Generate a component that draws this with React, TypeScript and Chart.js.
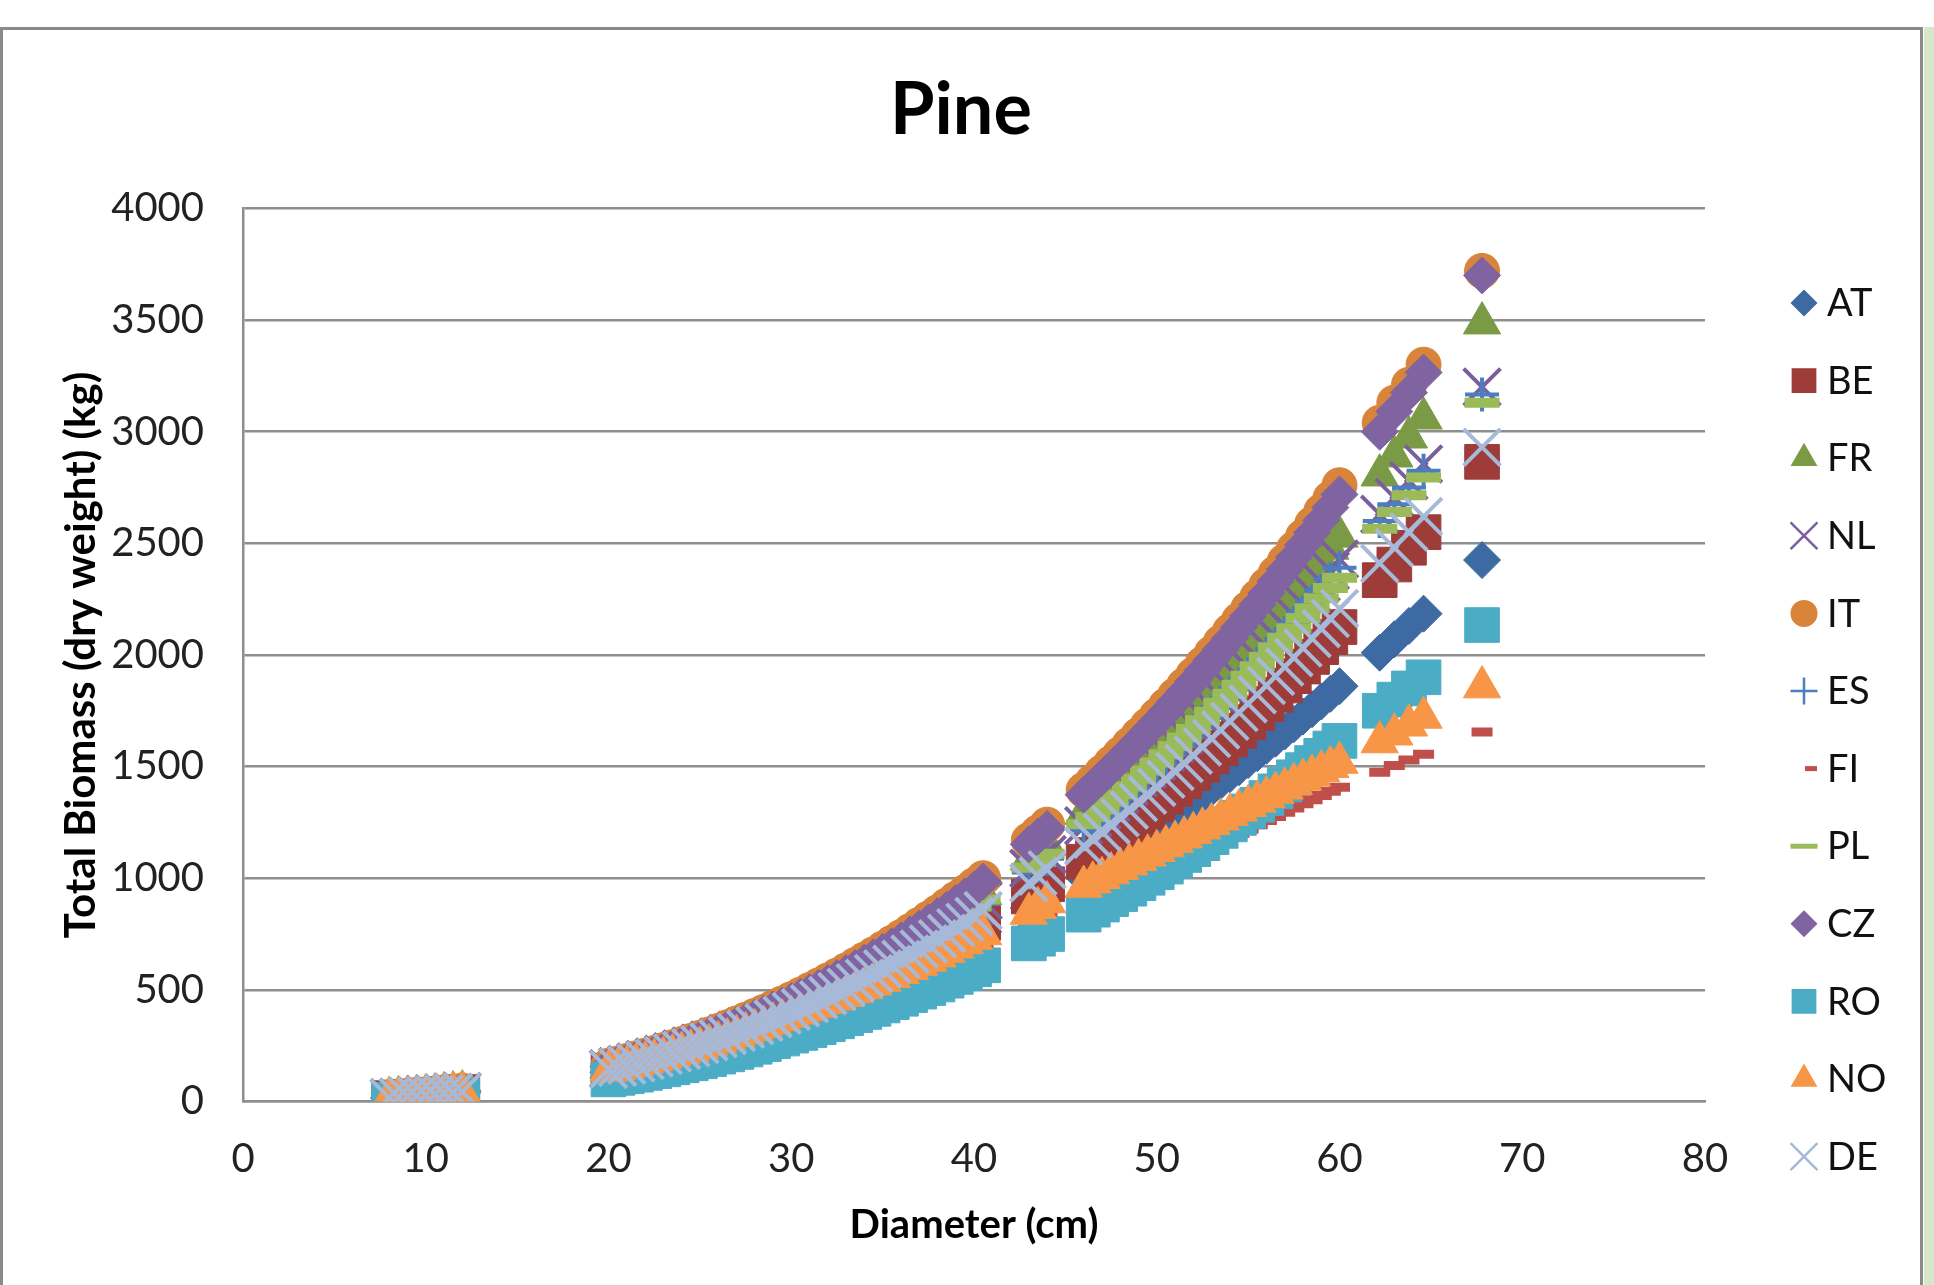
import React, { useEffect, useRef } from 'react';
import { Chart, registerables } from 'chart.js';

Chart.register(...registerables);

// Diameters (cm) shared by all series
const diameters = [
  8, 8.5, 9, 9.5, 10, 10.5, 11, 11.5, 12,
  20, 20.5, 21, 21.5, 22, 22.5, 23, 23.5, 24, 24.5, 25, 25.5, 26, 26.5, 27, 27.5, 28, 28.5, 29, 29.5,
  30, 30.5, 31, 31.5, 32, 32.5, 33, 33.5, 34, 34.5, 35, 35.5, 36, 36.5, 37, 37.5, 38, 38.5, 39, 39.5, 40, 40.5,
  43, 43.5, 44,
  46, 46.5, 47, 47.5, 48, 48.5, 49, 49.5, 50, 50.5, 51, 51.5, 52, 52.5, 53, 53.5, 54, 54.5, 55, 55.5, 56, 56.5, 57, 57.5, 58, 58.5, 59, 59.5, 60,
  62.2, 63, 63.8, 64.6,
  67.8,
];

// Total biomass (kg) per country
const AT = [
  15, 17, 20, 22, 25, 29, 33, 36, 40,
  131, 139, 148, 157, 167, 177, 187, 198, 209, 220, 231, 243, 255, 268, 281, 294, 308, 322, 337, 351,
  366, 381, 397, 413, 429, 446, 463, 480, 498, 516, 534, 553, 572, 591, 611, 631, 652, 673, 695, 716, 738, 760,
  866, 892, 918,
  1004, 1030, 1057, 1084, 1111, 1139, 1167, 1196, 1224, 1254, 1283, 1313, 1343, 1374, 1405, 1435, 1466, 1497, 1529, 1560, 1593, 1625, 1657, 1690, 1724, 1757, 1791, 1826, 1860,
  2010, 2070, 2130, 2185,
  2425,
];
const BE = [
  15, 18, 21, 23, 27, 30, 34, 38, 42,
  138, 146, 155, 165, 175, 185, 196, 207, 219, 230, 242, 255, 268, 281, 295, 309, 323, 338, 354, 369,
  385, 401, 417, 434, 451, 469, 487, 505, 524, 543, 562, 581, 601, 622, 643, 664, 686, 708, 731, 753, 776, 800,
  918, 946, 973,
  1074, 1104, 1135, 1167, 1198, 1230, 1264, 1297, 1331, 1365, 1400, 1435, 1471, 1508, 1545, 1583, 1622, 1660, 1699, 1739, 1780, 1821, 1863, 1905, 1948, 1991, 2035, 2080, 2125,
  2335, 2405, 2480, 2550,
  2865,
];
const FR = [
  17, 20, 23, 26, 29, 33, 38, 42, 46,
  152, 162, 172, 183, 194, 206, 218, 230, 243, 256, 269, 283, 298, 313, 329, 345, 361, 378, 395, 413,
  431, 450, 469, 488, 508, 529, 550, 572, 594, 617, 640, 663, 687, 712, 738, 763, 789, 816, 844, 872, 900, 930,
  1086, 1118, 1151,
  1290, 1326, 1362, 1400, 1436, 1475, 1513, 1553, 1592, 1633, 1674, 1715, 1758, 1802, 1846, 1892, 1935, 1981, 2028, 2076, 2122, 2171, 2221, 2271, 2320, 2371, 2424, 2477, 2531,
  2805, 2890, 2975, 3060,
  3486,
];
const NL = [
  17, 19, 22, 25, 29, 32, 37, 41, 45,
  147, 156, 166, 177, 188, 199, 211, 223, 235, 248, 261, 275, 289, 304, 319, 334, 349, 366, 383, 400,
  417, 435, 454, 473, 492, 512, 532, 553, 575, 597, 619, 642, 665, 689, 714, 739, 764, 790, 817, 844, 871, 900,
  1044, 1075, 1106,
  1235, 1269, 1303, 1339, 1376, 1411, 1449, 1487, 1524, 1564, 1603, 1642, 1684, 1726, 1766, 1809, 1853, 1897, 1942, 1988, 2035, 2081, 2129, 2177, 2226, 2276, 2326, 2377, 2429,
  2630, 2705, 2780, 2855,
  3200,
];
const IT = [
  18, 21, 24, 27, 31, 35, 40, 44, 49,
  160, 170, 181, 193, 205, 217, 230, 243, 257, 271, 285, 300, 316, 332, 349, 366, 383, 401, 420, 439,
  458, 478, 499, 520, 542, 564, 587, 611, 635, 659, 684, 710, 736, 763, 791, 819, 847, 877, 907, 937, 968, 1000,
  1170, 1205, 1240,
  1395, 1434, 1474, 1515, 1556, 1598, 1641, 1684, 1728, 1773, 1818, 1864, 1911, 1959, 2007, 2056, 2106, 2156, 2207, 2259, 2312, 2365, 2419, 2474, 2530, 2586, 2643, 2701, 2760,
  3040, 3130, 3210, 3300,
  3720,
];
const ES = [
  16, 19, 22, 25, 28, 32, 36, 40, 44,
  146, 155, 165, 175, 186, 197, 209, 221, 233, 245, 258, 272, 286, 300, 315, 330, 345, 361, 378, 395,
  412, 430, 448, 467, 486, 506, 526, 547, 568, 589, 611, 633, 656, 680, 704, 728, 753, 779, 805, 831, 858, 885,
  1026, 1057, 1087,
  1214, 1248, 1282, 1318, 1354, 1389, 1426, 1463, 1502, 1541, 1578, 1618, 1659, 1700, 1742, 1785, 1828, 1869, 1913, 1959, 2005, 2050, 2097, 2142, 2191, 2239, 2289, 2339, 2390,
  2600, 2675, 2750, 2825,
  3166,
];
const FI = [
  14, 17, 19, 22, 25, 28, 32, 35, 39,
  128, 136, 144, 153, 163, 173, 183, 193, 204, 214, 225, 237, 249, 261, 274, 287, 300, 314, 328, 342,
  357, 371, 385, 400, 415, 429, 444, 460, 476, 491, 507, 523, 540, 557, 575, 592, 609, 627, 645, 663, 681, 700,
  796, 819, 843,
  921, 937, 954, 971, 987, 1003, 1020, 1036, 1052, 1068, 1083, 1098, 1114, 1129, 1144, 1163, 1182, 1201, 1220, 1239, 1258, 1277, 1296, 1315, 1334, 1352, 1371, 1389, 1408,
  1475, 1505, 1530, 1555,
  1655,
];
const PL = [
  16, 19, 22, 25, 28, 32, 36, 40, 44,
  146, 155, 165, 176, 187, 198, 210, 222, 234, 246, 259, 273, 287, 302, 317, 332, 347, 364, 381, 398,
  415, 433, 452, 471, 491, 511, 531, 552, 574, 596, 618, 641, 665, 690, 715, 740, 766, 793, 820, 847, 875, 905,
  1047, 1078, 1110,
  1242, 1274, 1308, 1342, 1376, 1411, 1446, 1482, 1518, 1555, 1592, 1630, 1668, 1707, 1746, 1786, 1826, 1866, 1907, 1949, 1992, 2034, 2077, 2120, 2165, 2209, 2254, 2300, 2346,
  2565, 2640, 2715, 2795,
  3130,
];
const CZ = [
  18, 20, 23, 27, 30, 34, 39, 43, 48,
  157, 167, 177, 189, 201, 213, 225, 238, 252, 265, 279, 294, 310, 326, 342, 358, 375, 393, 412, 430,
  449, 469, 489, 510, 531, 553, 575, 598, 622, 646, 670, 695, 721, 748, 775, 802, 830, 859, 889, 919, 949, 985,
  1152, 1187, 1221,
  1374, 1412, 1452, 1492, 1533, 1574, 1616, 1659, 1702, 1746, 1791, 1836, 1882, 1930, 1977, 2025, 2074, 2124, 2174, 2225, 2277, 2330, 2383, 2437, 2492, 2547, 2603, 2660, 2719,
  3000, 3090, 3175, 3265,
  3700,
];
const RO = [
  8, 10, 12, 14, 17, 19, 22, 25, 28,
  99, 106, 113, 120, 128, 136, 144, 153, 162, 171, 180, 190, 201, 211, 222, 233, 245, 257, 270, 282,
  295, 307, 320, 333, 346, 359, 373, 387, 401, 415, 430, 445, 460, 476, 492, 508, 524, 541, 558, 575, 592, 610,
  708, 729, 750,
  837, 859, 882, 906, 929, 953, 978, 1002, 1027, 1052, 1078, 1104, 1130, 1157, 1184, 1212, 1241, 1270, 1299, 1329, 1359, 1389, 1420, 1452, 1484, 1516, 1548, 1581, 1615,
  1750, 1800, 1850, 1900,
  2134,
];
const NO = [
  15, 18, 21, 24, 27, 30, 34, 38, 42,
  139, 148, 157, 167, 177, 187, 197, 208, 219, 230, 242, 254, 267, 280, 294, 307, 321, 335, 350, 365,
  380, 395, 410, 426, 442, 458, 474, 491, 508, 525, 542, 559, 577, 595, 614, 632, 651, 671, 691, 710, 730, 750,
  842, 868, 893,
  963, 982, 1002, 1023, 1043, 1063, 1083, 1103, 1123, 1144, 1164, 1184, 1204, 1224, 1244, 1264, 1285, 1304, 1324, 1344, 1364, 1384, 1403, 1423, 1442, 1461, 1480, 1499, 1518,
  1610, 1645, 1685, 1720,
  1856,
];
const DE = [
  16, 19, 22, 25, 28, 31, 36, 40, 44,
  144, 153, 163, 173, 184, 195, 206, 217, 229, 241, 254, 267, 281, 295, 309, 324, 339, 354, 370, 386,
  403, 420, 438, 456, 474, 493, 512, 532, 552, 573, 594, 615, 637, 660, 683, 706, 729, 753, 778, 803, 829, 855,
  979, 1009, 1038,
  1144, 1175, 1207, 1239, 1271, 1305, 1339, 1372, 1407, 1443, 1478, 1514, 1551, 1588, 1626, 1664, 1703, 1742, 1781, 1822, 1863, 1904, 1946, 1988, 2031, 2074, 2118, 2163, 2208,
  2410, 2480, 2550, 2620,
  2930,
];

const seriesNames = ['AT', 'BE', 'FR', 'NL', 'IT', 'ES', 'FI', 'PL', 'CZ', 'RO', 'NO', 'DE'];
const seriesValues = [AT, BE, FR, NL, IT, ES, FI, PL, CZ, RO, NO, DE];
const seriesColors = [
  '#3D6AA3', '#9E3C3A', '#7B9A45', '#7B5E9E', '#D8843A', '#4A7EC0',
  '#C04E4B', '#9BBB59', '#8064A2', '#4BACC6', '#F79646', '#A7B9D8',
];

type MarkerSpec = { style: string; r: number; lw: number; lr: number; llw: number; dx?: number };
const markers: MarkerSpec[] = [
  { style: 'rectRot', r: 18.5, lw: 1, lr: 13.5, llw: 1 },
  { style: 'rect', r: 24.5, lw: 1, lr: 17.5, llw: 1 },
  { style: 'triangle', r: 21.5, lw: 1, lr: 15.5, llw: 1 },
  { style: 'crossRot', r: 26, lw: 4, lr: 19, llw: 2.5 },
  { style: 'circle', r: 17.5, lw: 1, lr: 13.5, llw: 1 },
  { style: 'cross', r: 17, lw: 4, lr: 13.5, llw: 2.5 },
  { style: 'line', r: 10.5, lw: 9, lr: 6, llw: 5, dx: 7 },
  { style: 'line', r: 17.5, lw: 10, lr: 13.5, llw: 5 },
  { style: 'rectRot', r: 18.5, lw: 1, lr: 13.5, llw: 1 },
  { style: 'rect', r: 24.5, lw: 1, lr: 17.5, llw: 1 },
  { style: 'triangle', r: 21.5, lw: 1, lr: 15.5, llw: 1 },
  { style: 'crossRot', r: 26, lw: 4, lr: 19, llw: 2.5 },
];

const FONT = 'Lato, Carlito, "Noto Sans", sans-serif';

function drawLegendMarker(ctx: CanvasRenderingContext2D, m: MarkerSpec, color: string, x: number, y: number) {
  const r = m.lr;
  ctx.save();
  ctx.fillStyle = color;
  ctx.strokeStyle = color;
  ctx.lineWidth = m.llw;
  ctx.beginPath();
  switch (m.style) {
    case 'rectRot':
      ctx.moveTo(x - r, y);
      ctx.lineTo(x, y - r);
      ctx.lineTo(x + r, y);
      ctx.lineTo(x, y + r);
      ctx.closePath();
      ctx.fill();
      break;
    case 'rect': {
      const s = r * Math.SQRT1_2;
      ctx.rect(x - s, y - s, 2 * s, 2 * s);
      ctx.fill();
      break;
    }
    case 'triangle':
      ctx.moveTo(x, y - r);
      ctx.lineTo(x + r * Math.sin((2 * Math.PI) / 3), y + r / 2);
      ctx.lineTo(x - r * Math.sin((2 * Math.PI) / 3), y + r / 2);
      ctx.closePath();
      ctx.fill();
      break;
    case 'circle':
      ctx.arc(x, y, r, 0, Math.PI * 2);
      ctx.fill();
      break;
    case 'crossRot': {
      const o = r * Math.SQRT1_2;
      ctx.moveTo(x - o, y - o);
      ctx.lineTo(x + o, y + o);
      ctx.moveTo(x - o, y + o);
      ctx.lineTo(x + o, y - o);
      ctx.stroke();
      break;
    }
    case 'cross':
      ctx.moveTo(x - r, y);
      ctx.lineTo(x + r, y);
      ctx.moveTo(x, y - r);
      ctx.lineTo(x, y + r);
      ctx.stroke();
      break;
    case 'line': {
      const cx = x + (m.dx || 0);
      ctx.moveTo(cx - r, y);
      ctx.lineTo(cx + r, y);
      ctx.stroke();
      break;
    }
  }
  ctx.restore();
}

const framePlugin = {
  id: 'frame',
  beforeDraw(chart: any) {
    const { ctx, width, height } = chart;
    ctx.save();
    ctx.fillStyle = '#ffffff';
    ctx.fillRect(0, 0, width, height);
    ctx.fillStyle = '#d6e8cb';
    ctx.fillRect(1924, 27, width - 1924, height - 27);
    ctx.strokeStyle = '#8a8a8a';
    ctx.lineWidth = 3;
    ctx.beginPath();
    ctx.moveTo(1.5, height + 5);
    ctx.lineTo(1.5, 28.5);
    ctx.lineTo(1921.5, 28.5);
    ctx.lineTo(1921.5, height + 5);
    ctx.stroke();
    ctx.restore();
  },
};

const legendPlugin = {
  id: 'seriesLegend',
  afterDraw(chart: any) {
    const ctx: CanvasRenderingContext2D = chart.ctx;
    ctx.save();
    seriesNames.forEach((name, i) => {
      const cy = 303 + i * 77.6;
      drawLegendMarker(ctx, markers[i], seriesColors[i], 1804, cy);
      ctx.fillStyle = '#111';
      ctx.font = `38px ${FONT}`;
      ctx.textAlign = 'left';
      ctx.textBaseline = 'middle';
      ctx.fillText(name, 1827, cy + 1);
    });
    ctx.restore();
  },
};

export default function App() {
  const ref = useRef<HTMLCanvasElement>(null);

  useEffect(() => {
    const canvas = ref.current;
    if (!canvas) return;
    const datasets = seriesNames.map((name, i) => ({
      label: name,
      data: diameters.map((d, j) => ({ x: d, y: seriesValues[i][j] })),
      pointStyle: markers[i].style as any,
      pointRadius: markers[i].r,
      pointBorderWidth: markers[i].lw,
      backgroundColor: seriesColors[i],
      borderColor: seriesColors[i],
      showLine: false,
      order: seriesNames.length - 1 - i,
    }));

    const chart = new Chart(canvas, {
      type: 'scatter',
      data: { datasets },
      options: {
        animation: false,
        responsive: false,
        devicePixelRatio: 1,
        layout: { padding: { left: 0, right: 12, top: 0, bottom: 0 } },
        plugins: {
          legend: { display: false },
          tooltip: { enabled: false },
          title: {
            display: true,
            text: 'Pine',
            color: '#000',
            font: { family: FONT, size: 72, weight: 'bold' },
            padding: { top: 68, bottom: 54 },
          },
        },
        scales: {
          x: {
            type: 'linear',
            position: 'bottom',
            min: 0,
            max: 80,
            ticks: {
              stepSize: 10,
              color: '#222',
              font: { family: FONT, size: 40 },
              padding: 34,
              maxRotation: 0,
              callback: (v: any) => String(v),
            },
            grid: { display: false, drawTicks: false },
            border: { display: true, color: '#8e8e8e', width: 2.5 },
            title: {
              display: true,
              text: 'Diameter (cm)',
              color: '#000',
              font: { family: FONT, size: 40, weight: 'bold' },
              padding: { top: 0, bottom: 36 },
            },
            afterFit: (s: any) => {
              s.height = 183.5;
            },
          },
          y: {
            type: 'linear',
            position: 'left',
            min: 0,
            max: 4000,
            ticks: {
              stepSize: 500,
              color: '#222',
              font: { family: FONT, size: 40 },
              padding: 39,
              callback: (v: any) => String(v),
            },
            grid: { color: '#8e8e8e', lineWidth: 2.5, drawTicks: false },
            border: { display: true, color: '#8e8e8e', width: 2.5 },
            title: {
              display: true,
              text: 'Total Biomass (dry weight) (kg)',
              color: '#000',
              font: { family: FONT, size: 42, weight: 'bold' },
              padding: { top: 56, bottom: 0 },
            },
            afterFit: (s: any) => {
              s.width = 243;
            },
          },
          legendSpace: {
            type: 'linear',
            position: 'right',
            min: 0,
            max: 1,
            ticks: { display: false },
            grid: { display: false, drawTicks: false },
            border: { display: false },
            afterFit: (s: any) => {
              s.width = 217;
            },
          },
        },
      },
      plugins: [framePlugin, legendPlugin],
    });
    return () => chart.destroy();
  }, []);

  return (
    <div style={{ position: 'absolute', left: 0, top: 0, width: 1934, height: 1285, overflow: 'hidden' }}>
      <canvas ref={ref} width={1934} height={1285} style={{ display: 'block', width: 1934, height: 1285 }} />
    </div>
  );
}
